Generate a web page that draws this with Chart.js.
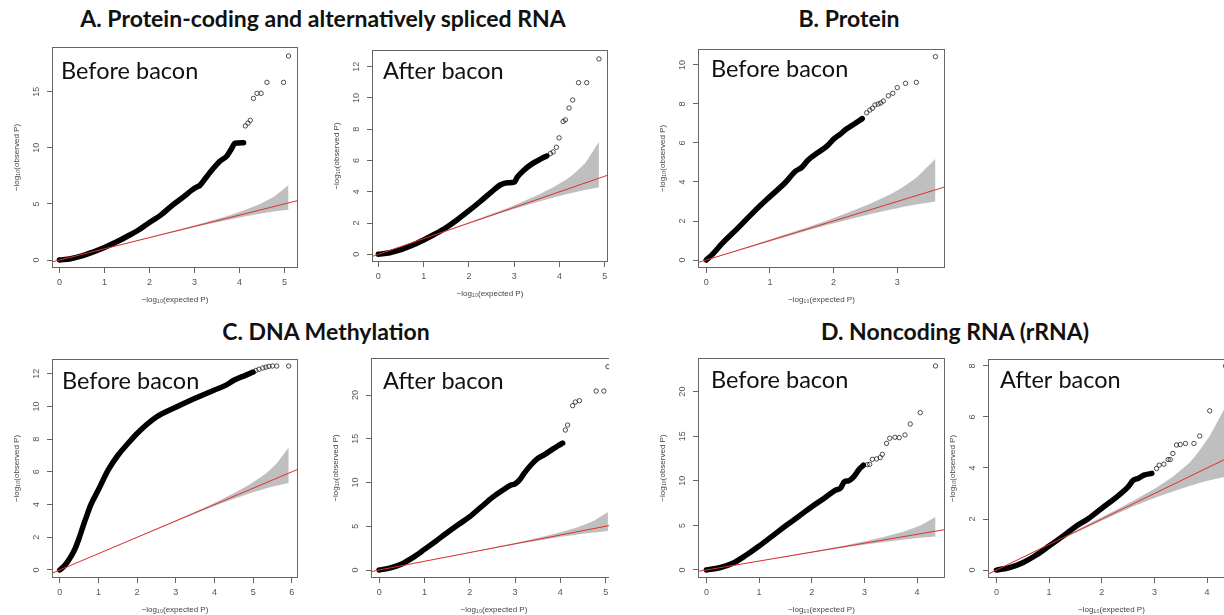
<!DOCTYPE html>
<html><head><meta charset="utf-8">
<script src="https://cdn.jsdelivr.net/npm/chart.js@4.4.0/dist/chart.umd.min.js"></script>
<style>
html,body{margin:0;padding:0;background:#fff;width:1224px;height:615px;overflow:hidden;position:relative;}
.title{position:absolute;font-family:Lato,'Open Sans',sans-serif;font-weight:700;font-size:23px;color:#111;white-space:nowrap;transform:translate(-50%,-50%);}
.wrap{position:absolute;overflow:hidden;}
canvas{display:block;}
</style></head><body>
<script>
// ---------- text ----------
const sectionTitles = ['A. Protein-coding and alternatively spliced RNA','B. Protein','C. DNA Methylation','D. Noncoding RNA (rRNA)'];
const panelLabels = ['Before bacon','After bacon','Before bacon','Before bacon','After bacon','Before bacon','After bacon'];
const xAxisTitle = '\u2212log\u2081\u2080(expected P)';
const yAxisTitle = '\u2212log\u2081\u2080(observed P)';

// ---------- tick values ----------
const a1XTicks=[0,1,2,3,4,5], a1YTicks=[0,5,10,15];
const a2XTicks=[0,1,2,3,4,5], a2YTicks=[0,2,4,6,8,10,12];
const bXTicks=[0,1,2,3], bYTicks=[0,2,4,6,8,10];
const c1XTicks=[0,1,2,3,4,5,6], c1YTicks=[0,2,4,6,8,10,12];
const c2XTicks=[0,1,2,3,4,5], c2YTicks=[0,5,10,15,20];
const d1XTicks=[0,1,2,3,4], d1YTicks=[0,5,10,15,20];
const d2XTicks=[0,1,2,3,4], d2YTicks=[0,2,4,6,8];

// ---------- A1: protein-coding, before bacon ----------
const a1DenseX=[0,0.25,0.5,0.75,1.0,1.25,1.5,1.75,2.0,2.25,2.5,2.75,2.95,3.05,3.12,3.27,3.42,3.57,3.72,3.82,3.9,4.09];
const a1DenseY=[0,0.12,0.36,0.72,1.12,1.58,2.1,2.65,3.35,4.0,4.85,5.6,6.25,6.5,6.65,7.42,8.17,8.82,9.27,9.9,10.4,10.45];
const a1TailX=[4.13,4.19,4.24,4.31,4.39,4.48,4.61,4.98,5.09];
const a1TailY=[11.95,12.2,12.45,14.4,14.85,14.85,15.83,15.83,18.18];
const a1BandX=[0,2.09,3.09,3.39,3.79,4.09,4.39,4.49,4.61,4.79,5.09];
const a1BandUp=[0,2.12,3.18,3.52,4.0,4.41,4.88,5.06,5.3,5.71,6.68];
const a1BandLo=[0,2.06,3.01,3.28,3.62,3.86,4.08,4.15,4.23,4.34,4.49];

// ---------- A2: protein-coding, after bacon ----------
const a2DenseX=[0,0.25,0.5,0.75,1.0,1.25,1.5,1.75,2.0,2.25,2.5,2.7,2.85,3.0,3.07,3.2,3.4,3.6,3.72];
const a2DenseY=[0,0.1,0.3,0.58,0.92,1.3,1.72,2.23,2.79,3.38,4.0,4.45,4.58,4.62,4.95,5.35,5.8,6.12,6.3];
const a2TailX=[3.8,3.86,3.93,3.99,4.08,4.13,4.21,4.29,4.42,4.6,4.87];
const a2TailY=[6.45,6.55,6.85,7.45,8.5,8.6,9.36,9.87,10.98,10.98,12.5];
const a2BandX=[0,1.87,2.87,3.17,3.57,3.87,4.17,4.27,4.39,4.57,4.87];
const a2BandUp=[0,1.91,2.98,3.34,3.86,4.3,4.82,5.04,5.35,5.85,7.2];
const a2BandLo=[0,1.84,2.79,3.06,3.4,3.64,3.86,3.93,4.01,4.12,4.29];

// ---------- B: protein, before bacon ----------
const bDenseX=[0,0.1,0.25,0.5,0.75,1.0,1.25,1.4,1.5,1.6,1.75,1.9,2.0,2.1,2.2,2.3,2.45];
const bDenseY=[0,0.3,0.85,1.65,2.48,3.25,4.0,4.55,4.75,5.13,5.5,5.85,6.2,6.44,6.72,6.92,7.25];
const bTailX=[2.52,2.57,2.61,2.65,2.7,2.74,2.78,2.86,2.93,3.0,3.13,3.3,3.6];
const bTailY=[7.55,7.69,7.78,7.95,8.0,8.05,8.15,8.42,8.55,8.84,9.06,9.11,10.43];
const bBandX=[0,0.6,1.6,1.9,2.3,2.6,2.9,3.0,3.12,3.3,3.6];
const bBandUp=[0,0.63,1.69,2.03,2.52,2.92,3.39,3.57,3.81,4.22,5.19];
const bBandLo=[0,0.57,1.52,1.79,2.13,2.37,2.59,2.66,2.74,2.85,3.0];

// ---------- C1: DNA methylation, before bacon ----------
const c1DenseX=[0,0.1,0.2,0.3,0.4,0.5,0.6,0.7,0.8,1.0,1.25,1.5,1.75,2.0,2.5,3.0,3.5,4.0,4.3,4.5,4.8,5.0];
const c1DenseY=[0,0.2,0.5,0.86,1.32,1.94,2.65,3.32,3.97,4.9,6.1,7.0,7.7,8.35,9.35,9.95,10.5,11.0,11.3,11.6,11.9,12.1];
const c1TailX=[5.07,5.15,5.25,5.33,5.41,5.5,5.61,5.92];
const c1TailY=[12.2,12.27,12.35,12.4,12.45,12.47,12.47,12.47];
const c1BandX=[0,2.92,3.92,4.22,4.62,4.92,5.22,5.32,5.44,5.62,5.92];
const c1BandUp=[0,2.95,4.01,4.35,4.84,5.24,5.71,5.89,6.13,6.54,7.51];
const c1BandLo=[0,2.89,3.84,4.11,4.45,4.69,4.91,4.98,5.06,5.17,5.32];

// ---------- C2: DNA methylation, after bacon ----------
const c2DenseX=[0,0.25,0.5,0.75,1.0,1.25,1.5,1.75,2.0,2.25,2.5,2.75,2.9,3.0,3.1,3.2,3.35,3.5,3.65,3.8,3.95,4.05];
const c2DenseY=[0,0.25,0.69,1.45,2.36,3.3,4.27,5.2,6.1,7.2,8.3,9.2,9.7,9.85,10.3,11.05,12.0,12.76,13.2,13.7,14.2,14.5];
const c2TailX=[4.11,4.16,4.27,4.33,4.42,4.79,4.96,5.05];
const c2TailY=[16.0,16.57,18.78,19.2,19.35,20.46,20.46,23.24];
const c2BandX=[0,2.05,3.05,3.35,3.75,4.05,4.35,4.45,4.57,4.75,5.05];
const c2BandUp=[0,2.08,3.14,3.48,3.97,4.37,4.84,5.02,5.26,5.67,6.64];
const c2BandLo=[0,2.02,2.97,3.24,3.58,3.82,4.04,4.11,4.19,4.3,4.45];

// ---------- D1: noncoding RNA, before bacon ----------
const d1DenseX=[0,0.25,0.5,0.75,1.0,1.25,1.5,1.75,2.0,2.25,2.45,2.55,2.62,2.7,2.8,2.9,2.98];
const d1DenseY=[0,0.25,0.75,1.65,2.69,3.8,4.93,6.0,7.1,8.1,8.95,9.2,9.9,10.0,10.47,11.3,11.75];
const d1TailX=[3.05,3.1,3.15,3.23,3.3,3.34,3.42,3.48,3.58,3.66,3.77,3.87,4.06,4.35];
const d1TailY=[11.8,11.85,12.41,12.45,12.6,12.97,14.2,14.77,14.88,14.84,15.14,16.37,17.64,22.88];
const d1BandX=[0,1.35,2.35,2.65,3.05,3.35,3.65,3.75,3.87,4.05,4.35];
const d1BandUp=[0,1.38,2.44,2.78,3.27,3.67,4.14,4.32,4.56,4.97,5.94];
const d1BandLo=[0,1.32,2.27,2.54,2.88,3.12,3.34,3.41,3.49,3.6,3.75];

// ---------- D2: noncoding RNA, after bacon ----------
const d2DenseX=[0,0.25,0.5,0.75,1.0,1.25,1.5,1.75,2.0,2.25,2.5,2.6,2.7,2.8,2.95];
const d2DenseY=[0,0.1,0.29,0.58,0.94,1.31,1.7,2.02,2.42,2.81,3.26,3.52,3.6,3.72,3.79];
const d2TailX=[3.04,3.09,3.18,3.26,3.3,3.35,3.42,3.49,3.59,3.75,3.86,4.05,4.35];
const d2TailY=[3.98,4.11,4.15,4.33,4.33,4.57,4.9,4.92,4.96,4.96,5.25,6.24,8.0];
const d2BandX=[0,1.35,2.35,2.65,3.05,3.35,3.65,3.75,3.87,4.05,4.35];
const d2BandUp=[0,1.38,2.44,2.78,3.25,3.66,4.18,4.4,4.72,5.25,6.4];
const d2BandLo=[0,1.32,2.27,2.54,2.86,3.08,3.28,3.34,3.42,3.52,3.66];

// ---------- layout ----------
const YW=45, XH=40, PT=6, PR=6;
const tickFont='"Liberation Sans", Arial, sans-serif';

function pts(xs, ys){ return xs.map((x,i)=>({x:x, y:ys[i]})); }

const panelDecor = {
  id:'panelDecor',
  afterDraw(chart, args, opts){
    const {ctx, chartArea:a} = chart;
    const y = chart.scales.y;
    ctx.save();
    ctx.strokeStyle='#666'; ctx.lineWidth=1;
    ctx.strokeRect(Math.round(a.left)+0.5, Math.round(a.top)+0.5, Math.round(a.right-a.left)-1, Math.round(a.bottom-a.top)-1);
    ctx.fillStyle='#555'; ctx.font='9px '+tickFont; ctx.textAlign='center'; ctx.textBaseline='middle';
    y.ticks.forEach(t=>{
      const py=y.getPixelForValue(t.value);
      ctx.save(); ctx.translate(a.left-15, py); ctx.rotate(-Math.PI/2); ctx.fillText(String(t.value),0,0); ctx.restore();
    });
    ctx.fillStyle='#111'; ctx.font='23.5px Lato, "Open Sans", sans-serif'; ctx.textAlign='left'; ctx.textBaseline='alphabetic';
    ctx.fillText(opts.text, a.left+opts.dx, a.top+opts.dy);
    ctx.restore();
  }
};

function makePanel(p){
  const [bl, bt, br, bb] = p.box;
  const bw = br-bl, bh = bb-bt;
  const cl = bl-YW, ct = bt-PT, cw = YW+bw+PR, ch = PT+bh+XH;
  const wrap = document.createElement('div');
  wrap.className='wrap';
  wrap.style.left=cl+'px'; wrap.style.top=ct+'px';
  wrap.style.width=(p.clipRight? (p.clipRight-cl) : cw)+'px';
  wrap.style.height=ch+'px';
  const cv = document.createElement('canvas');
  cv.width=cw; cv.height=ch; cv.style.width=cw+'px'; cv.style.height=ch+'px';
  wrap.appendChild(cv); document.body.appendChild(wrap);
  const axisCommon = {
    type:'linear',
    grid:{drawOnChartArea:false, drawTicks:true, tickLength:5, color:'#666', lineWidth:1},
    border:{display:false},
  };
  new Chart(cv, {
    type:'scatter',
    data:{datasets:[
      {type:'line', data:pts(p.band[0], p.band[2]), borderWidth:0, pointRadius:0, fill:false, order:6, backgroundColor:'rgba(0,0,0,0)', borderColor:'rgba(0,0,0,0)'},
      {type:'line', data:pts(p.band[0], p.band[1]), borderWidth:0, pointRadius:0, fill:'-1', order:5, backgroundColor:'#bfbfbf', borderColor:'rgba(0,0,0,0)'},
      {type:'line', data:pts(p.dense[0], p.dense[1]), borderColor:'#000', borderWidth:5.5, pointRadius:0, fill:false, order:2,
        cubicInterpolationMode:'monotone', borderCapStyle:'round', borderJoinStyle:'round'},
      {type:'scatter', data:pts(p.tail[0], p.tail[1]), pointRadius:2.2, borderWidth:0.8, borderColor:'#222', backgroundColor:'rgba(0,0,0,0)', order:2},
      {type:'line', data:[{x:-2,y:-2},{x:30,y:30}], borderColor:'#e0302c', borderWidth:1, pointRadius:0, fill:false, order:0}
    ]},
    options:{
      responsive:false, animation:false, events:[],
      layout:{padding:{top:PT, right:PR, left:0, bottom:0}},
      plugins:{legend:{display:false}, tooltip:{enabled:false}, panelDecor:{text:p.label, dx:p.lab[0], dy:p.lab[1]}},
      scales:{
        x:Object.assign({}, axisCommon, {
          position:'bottom', min:p.xr[0], max:p.xr[1],
          afterBuildTicks:s=>{ s.ticks = p.xt.map(v=>({value:v})); },
          afterFit:s=>{ s.height=XH; s.paddingLeft=0; s.paddingRight=0; },
          ticks:{font:{family:tickFont, size:9}, color:'#555', padding:4.5, maxRotation:0, autoSkip:false},
          title:{display:true, text:xAxisTitle, font:{family:tickFont, size:8}, color:'#444', padding:{top:0, bottom:3}}
        }),
        y:Object.assign({}, axisCommon, {
          position:'left', min:p.yr[0], max:p.yr[1],
          afterBuildTicks:s=>{ s.ticks = p.yt.map(v=>({value:v})); },
          afterFit:s=>{ s.width=YW; s.paddingTop=0; s.paddingBottom=0; },
          ticks:{font:{family:tickFont, size:9}, color:'rgba(0,0,0,0)', autoSkip:false},
          title:{display:true, text:yAxisTitle, font:{family:tickFont, size:8}, color:'#444', padding:{top:5.2, bottom:0}}
        })
      }
    },
    plugins:[panelDecor]
  });
}

const panels = [
  {box:[52,47,298,268], xr:[-0.165,5.30], yr:[-0.71,18.98], xt:a1XTicks, yt:a1YTicks, label:panelLabels[0], lab:[9,32],
   dense:[a1DenseX,a1DenseY], tail:[a1TailX,a1TailY], band:[a1BandX,a1BandUp,a1BandLo]},
  {box:[372,50,608,262], xr:[-0.14,5.07], yr:[-0.49,13.07], xt:a2XTicks, yt:a2YTicks, label:panelLabels[1], lab:[11,29],
   dense:[a2DenseX,a2DenseY], tail:[a2TailX,a2TailY], band:[a2BandX,a2BandUp,a2BandLo]},
  {box:[698,49,945,268], xr:[-0.13,3.75], yr:[-0.41,10.82], xt:bXTicks, yt:bYTicks, label:panelLabels[2], lab:[13,28],
   dense:[bDenseX,bDenseY], tail:[bTailX,bTailY], band:[bBandX,bBandUp,bBandLo]},
  {box:[52,359,298,578], xr:[-0.2,6.16], yr:[-0.49,12.9], xt:c1XTicks, yt:c1YTicks, label:panelLabels[3], lab:[10,30],
   dense:[c1DenseX,c1DenseY], tail:[c1TailX,c1TailY], band:[c1BandX,c1BandUp,c1BandLo]},
  {box:[371,358,617,578], clipRight:609, xr:[-0.18,5.25], yr:[-0.91,24.23], xt:c2XTicks, yt:c2YTicks, label:panelLabels[4], lab:[12,31],
   dense:[c2DenseX,c2DenseY], tail:[c2TailX,c2TailY], band:[c2BandX,c2BandUp,c2BandLo]},
  {box:[698,358,945,578], xr:[-0.16,4.53], yr:[-0.9,23.77], xt:d1XTicks, yt:d1YTicks, label:panelLabels[5], lab:[13,30],
   dense:[d1DenseX,d1DenseY], tail:[d1TailX,d1TailY], band:[d1BandX,d1BandUp,d1BandLo]},
  {box:[988,359,1235,578], xr:[-0.16,4.53], yr:[-0.31,8.27], xt:d2XTicks, yt:d2YTicks, label:panelLabels[6], lab:[12,29],
   dense:[d2DenseX,d2DenseY], tail:[d2TailX,d2TailY], band:[d2BandX,d2BandUp,d2BandLo]}
];
panels.forEach(makePanel);

const titlePos = [[323,18],[849,18],[326,331],[955,331]];
sectionTitles.forEach((t,i)=>{
  const d=document.createElement('div'); d.className='title'; d.textContent=t;
  d.style.left=titlePos[i][0]+'px'; d.style.top=titlePos[i][1]+'px';
  document.body.appendChild(d);
});
</script>
</body></html>
